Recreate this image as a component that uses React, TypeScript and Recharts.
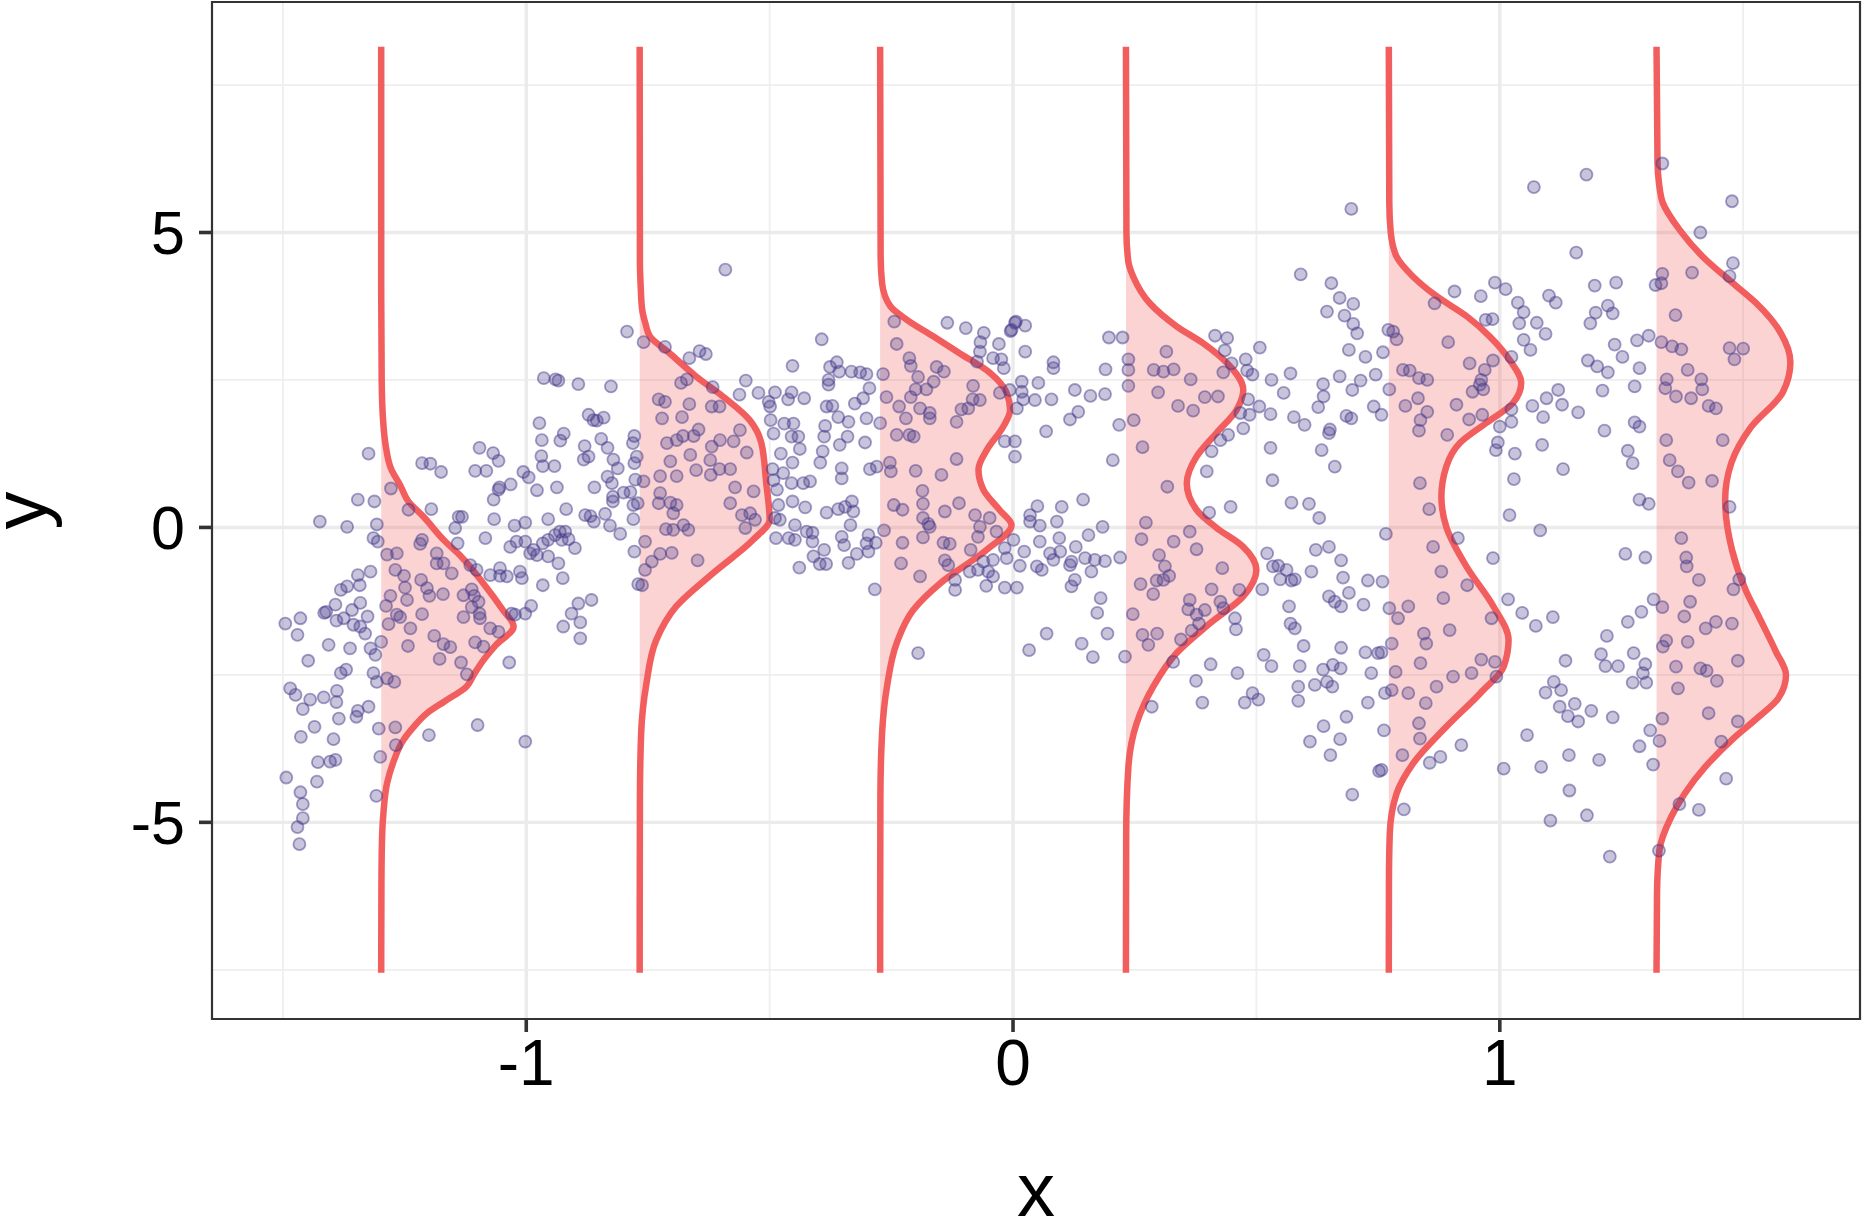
import { ComposedChart, XAxis, YAxis, CartesianGrid, Scatter, Area, ReferenceArea } from 'recharts';

type Pair = [number, number];

const X_DOMAIN: [number, number] = [-1.6456, 1.74];
const Y_DOMAIN: [number, number] = [-8.334, 8.908];
const X_TICKS = [-1, 0, 1];
const Y_TICKS = [-5, 0, 5];
const X_MINOR = [-1.5, -0.5, 0.5, 1.5];
const Y_MINOR = [-7.5, -2.5, 2.5, 7.5];

const POINT_COLOR = '#483D8B';
const CURVE_COLOR = '#F25D5D';
const FONT = '"Liberation Sans", Arial, Helvetica, sans-serif';

// raw observations [x, y], grouped by area of the plane
const leftUpper: Pair[] = [
  [-0.793, 3.32], [-0.964, 2.53], [-0.94, 2.51], [-0.934, 2.49], [-0.893, 2.43], [-0.826, 2.39], [-0.872, 1.91],
  [-0.862, 1.82], [-0.855, 1.81], [-0.841, 1.86], [-0.973, 1.77], [-0.968, 1.48], [-0.93, 1.47], [-0.923, 1.59],
  [-0.846, 1.5], [-0.833, 1.35], [-0.778, 1.55], [-0.781, 1.43], [-0.88, 1.38], [-0.882, 1.15], [-0.872, 1.2],
  [-0.821, 1.15], [-0.812, 1.0], [-0.778, 1.09], [-0.773, 1.2], [-0.969, 1.21], [-0.966, 1.04], [-0.942, 1.04],
  [-1.096, 1.35], [-1.068, 1.26], [-1.057, 1.13], [-1.105, 0.96], [-1.082, 0.96], [-1.006, 0.94], [-0.995, 0.85],
  [-1.214, 1.09], [-1.197, 1.08], [-1.175, 0.94], [-1.324, 1.25], [-0.833, 0.86], [-0.824, 0.75], [-0.776, 0.81],
  [-0.86, 0.68], [-0.937, 0.68], [-0.978, 0.63], [-1.032, 0.73], [-1.055, 0.68], [-1.057, 0.64], [-0.822, 0.52],
  [-0.8, 0.59], [-0.786, 0.6], [-1.278, 0.66],
];

const leftLower: Pair[] = [
  [-1.346, 0.47], [-1.312, 0.44], [-1.242, 0.3], [-1.195, 0.31], [-1.067, 0.47], [-0.918, 0.31], [-0.838, 0.23],
  [-0.822, 0.44], [-0.879, 0.21], [-0.868, 0.19], [-0.78, 0.14], [-0.78, 0.38], [-0.771, 0.41], [-1.139, 0.18],
  [-1.132, 0.18], [-1.066, 0.14], [-1.424, 0.1], [-1.368, 0.01], [-1.307, 0.05], [-1.146, -0.01], [-1.024, 0.03],
  [-1.002, 0.08], [-0.955, 0.14], [-0.931, -0.07], [-0.92, -0.07], [-0.861, 0.1], [-0.828, 0.03], [-0.807, -0.11],
  [-1.084, -0.18], [-1.141, -0.27], [-1.314, -0.18], [-1.305, -0.24], [-1.214, -0.21], [-1.218, -0.28], [-1.033, -0.33],
  [-1.02, -0.24], [-1.002, -0.24], [-0.985, -0.38], [-0.978, -0.47], [-0.992, -0.44], [-0.966, -0.27], [-0.955, -0.21],
  [-0.941, -0.13], [-0.927, -0.21], [-0.913, -0.2], [-0.9, -0.35], [-0.955, -0.49], [-0.934, -0.61], [-0.925, -0.86],
  [-0.966, -0.98], [-0.778, -0.41], [-0.77, -0.96], [-1.286, -0.46], [-1.266, -0.44], [-1.184, -0.44], [-1.184, -0.61],
  [-1.17, -0.61], [-1.153, -0.78], [-1.115, -0.64], [-1.102, -0.72], [-1.074, -0.81], [-1.054, -0.69], [-1.054, -0.82],
  [-1.04, -0.83], [-1.013, -0.75], [-1.009, -0.86], [-1.32, -0.75], [-1.346, -0.81], [-1.342, -0.98], [-1.381, -1.06],
  [-1.368, -1.0], [-1.392, -1.31], [-1.411, -1.43], [-1.415, -1.45], [-1.358, -1.4], [-1.341, -1.28], [-1.326, -1.51],
  [-1.375, -1.54], [-1.355, -1.65], [-1.341, -1.68], [-1.331, -1.8], [-1.39, -1.58], [-1.464, -1.54], [-1.495, -1.63],
  [-1.47, -1.82], [-1.406, -1.99], [-1.362, -2.05], [-1.32, -2.05], [-1.298, -1.94], [-1.31, -2.16], [-1.448, -2.26],
  [-1.381, -2.47], [-1.37, -2.41], [-1.314, -2.47], [-1.307, -2.62], [-1.286, -2.56], [-1.271, -2.62], [-1.485, -2.73],
  [-1.474, -2.84], [-1.444, -2.92], [-1.416, -2.88], [-1.389, -2.77], [-1.39, -2.96], [-1.459, -3.08], [-1.349, -3.21],
  [-1.346, -3.11], [-1.324, -3.04], [-1.385, -3.24], [-1.435, -3.38], [-1.463, -3.55], [-1.396, -3.59], [-1.303, -3.41],
  [-1.269, -3.39], [-1.268, -3.69], [-1.3, -3.89], [-1.428, -3.98], [-1.403, -3.97], [-1.392, -3.94], [-1.493, -4.24],
  [-1.43, -4.31], [-1.464, -4.49], [-1.459, -4.69], [-1.459, -4.93], [-1.47, -5.08], [-1.466, -5.37], [-1.308, -4.55],
  [-1.2, -3.52], [-1.1, -3.35], [-1.002, -3.63], [-1.035, -2.29],
  [-1.269, -0.72], [-1.251, -0.82], [-1.249, -1.02], [-1.279, -1.16], [-1.245, -1.23], [-1.288, -1.33], [-1.266, -1.48],
  [-1.259, -1.52], [-1.283, -1.64], [-1.238, -1.71], [-1.214, -1.47], [-1.216, -0.89], [-1.204, -1.03], [-1.199, -1.16],
  [-1.171, -1.13], [-1.129, -1.15], [-1.112, -1.05], [-1.107, -1.16], [-1.098, -1.26], [-1.112, -1.35], [-1.096, -1.46],
  [-1.095, -1.54], [-1.129, -1.52], [-1.074, -1.71], [-1.057, -1.77], [-1.189, -1.84], [-1.17, -1.98], [-1.156, -2.03],
  [-1.178, -2.23], [-1.134, -2.29], [-1.105, -1.95], [-1.088, -2.02], [-1.243, -2.01], [-1.122, -2.49],
  [-1.03, -1.46], [-1.023, -1.48], [-1.002, -1.46], [-0.99, -1.33], [-0.907, -1.46], [-0.893, -1.29], [-0.866, -1.23],
  [-0.924, -1.68], [-0.889, -1.61], [-0.889, -1.88],
];

const midLeftUpper: Pair[] = [
  [-0.591, 4.37], [-0.759, 3.14], [-0.715, 3.06], [-0.665, 2.87], [-0.644, 2.99], [-0.631, 2.94], [-0.67, 2.51],
  [-0.682, 2.45], [-0.617, 2.38], [-0.549, 2.49], [-0.562, 2.25], [-0.523, 2.28], [-0.489, 2.29], [-0.455, 2.29],
  [-0.462, 2.17], [-0.429, 2.19], [-0.502, 2.13], [-0.499, 2.05], [-0.498, 1.82], [-0.47, 1.76], [-0.451, 1.76],
  [-0.492, 1.59], [-0.455, 1.54], [-0.441, 1.54], [-0.438, 1.33], [-0.477, 1.25], [-0.453, 1.1], [-0.472, 0.92],
  [-0.494, 0.99], [-0.393, 3.19], [-0.453, 2.74], [-0.362, 2.8], [-0.376, 2.72], [-0.357, 2.64], [-0.332, 2.64],
  [-0.314, 2.63], [-0.301, 2.6], [-0.379, 2.5], [-0.379, 2.42], [-0.295, 2.36], [-0.308, 2.19], [-0.325, 2.1],
  [-0.383, 2.05], [-0.371, 2.06], [-0.359, 1.87], [-0.338, 1.79], [-0.301, 1.85], [-0.386, 1.72], [-0.388, 1.54],
  [-0.34, 1.54], [-0.356, 1.4], [-0.391, 1.29], [-0.304, 1.44], [-0.396, 1.1], [-0.352, 1.0], [-0.352, 0.83],
  [-0.294, 0.99], [-0.28, 1.03], [-0.431, 0.75], [-0.417, 0.78], [-0.455, 0.75], [-0.492, 0.8], [-0.485, 0.64],
  [-0.728, 2.17], [-0.715, 2.13], [-0.665, 2.09], [-0.721, 1.85], [-0.68, 1.87], [-0.619, 2.05], [-0.603, 2.05],
  [-0.561, 1.65], [-0.574, 1.46], [-0.547, 1.27], [-0.602, 1.48], [-0.619, 1.37], [-0.646, 1.66], [-0.656, 1.55],
  [-0.678, 1.55], [-0.691, 1.48], [-0.711, 1.43], [-0.663, 1.23], [-0.704, 1.12], [-0.622, 1.14], [-0.651, 0.97],
  [-0.603, 0.99], [-0.581, 0.99], [-0.621, 0.89], [-0.571, 0.68], [-0.533, 0.61], [-0.759, 0.78], [-0.725, 0.87],
  [-0.691, 0.87], [-0.725, 0.58],
  [-0.244, 3.49], [-0.239, 3.11], [-0.213, 2.87], [-0.21, 2.74], [-0.157, 2.72], [-0.142, 2.64], [-0.195, 2.55],
  [-0.163, 2.47], [-0.178, 2.34], [-0.2, 2.34], [-0.267, 2.6], [-0.26, 2.21], [-0.234, 2.05], [-0.21, 2.21],
  [-0.191, 2.02], [-0.171, 1.94], [-0.171, 1.85], [-0.22, 1.85], [-0.116, 1.79], [-0.106, 2.0], [-0.082, 2.4],
  [-0.083, 2.17], [-0.068, 2.16], [-0.092, 2.02], [-0.273, 1.77], [-0.239, 1.57], [-0.213, 1.57], [-0.204, 1.54],
  [-0.116, 1.16], [-0.253, 1.1], [-0.251, 0.95], [-0.2, 0.96], [-0.147, 0.89], [-0.186, 0.62],
  [-0.135, 3.47], [-0.097, 3.38], [-0.06, 3.3], [-0.067, 3.14], [-0.068, 2.98], [-0.074, 2.81], [-0.029, 3.11],
  [-0.041, 2.87], [-0.024, 2.85], [-0.019, 2.7], [-0.005, 3.33], [0.004, 3.47], [-0.027, 2.28], [-0.007, 2.33],
  [-0.017, 1.46], [0.004, 1.46],
];

const midLeftLower: Pair[] = [
  [-0.728, 0.41], [-0.704, 0.42], [-0.691, 0.38], [-0.698, 0.24], [-0.677, 0.04], [-0.698, -0.04], [-0.713, -0.03],
  [-0.667, -0.04], [-0.581, 0.41], [-0.557, 0.21], [-0.54, 0.24], [-0.53, 0.13], [-0.55, -0.01], [-0.756, -0.24],
  [-0.725, -0.45], [-0.701, -0.43], [-0.742, -0.58], [-0.756, -0.72], [-0.648, -0.56], [-0.762, -0.98],
  [-0.482, 0.38], [-0.453, 0.44], [-0.427, 0.34], [-0.383, 0.25], [-0.359, 0.31], [-0.345, 0.35], [-0.328, 0.27],
  [-0.331, 0.44], [-0.489, 0.16], [-0.479, 0.13], [-0.448, 0.04], [-0.424, -0.07], [-0.412, -0.09], [-0.461, -0.18],
  [-0.448, -0.21], [-0.487, -0.18], [-0.412, -0.24], [-0.388, -0.38], [-0.41, -0.49], [-0.397, -0.62], [-0.384, -0.62],
  [-0.439, -0.68], [-0.352, -0.16], [-0.347, -0.3], [-0.334, 0.04], [-0.321, -0.45], [-0.338, -0.6], [-0.297, -0.13],
  [-0.297, -0.41], [-0.301, -0.27], [-0.282, -0.26], [-0.284, -1.05],
  [-0.265, -0.05], [-0.245, 0.38], [-0.227, 0.3], [-0.185, 0.4], [-0.14, 0.27], [-0.111, 0.41], [-0.185, 0.16],
  [-0.174, 0.06], [-0.171, 0.01], [-0.078, 0.21], [-0.048, 0.16], [-0.068, 0.01], [-0.072, -0.16], [-0.034, -0.07],
  [-0.227, -0.26], [-0.185, -0.17], [-0.143, -0.26], [-0.13, -0.28], [-0.087, -0.38], [-0.23, -0.61], [-0.14, -0.56],
  [-0.133, -0.64], [-0.191, -0.83], [-0.195, -2.13],
  [-0.017, -0.35], [-0.013, -0.52], [-0.051, -0.75], [-0.041, -0.83], [-0.055, -0.99], [-0.017, -1.02], [-0.072, -0.72],
  [-0.089, -0.75], [-0.119, -1.06], [-0.119, -0.89], [-0.061, -0.58], [-0.041, -0.55],
];

const midRightUpper: Pair[] = [
  [0.006, 3.49], [0.025, 3.42], [-0.003, 3.35], [0.025, 2.98], [0.083, 2.8], [0.083, 2.7], [0.018, 2.47],
  [0.052, 2.45], [0.018, 2.3], [0.021, 2.17], [0.045, 2.16], [0.008, 2.02], [0.079, 2.17], [0.127, 2.33],
  [0.159, 2.23], [0.189, 2.26], [0.134, 1.96], [0.117, 1.83], [0.068, 1.63], [0.004, 1.2], [0.197, 3.22],
  [0.225, 3.22], [0.19, 2.68], [0.218, 1.74], [0.205, 1.14],
  [0.237, 2.85], [0.237, 2.67], [0.237, 2.4], [0.315, 2.98], [0.289, 2.67], [0.309, 2.64], [0.33, 2.68],
  [0.365, 2.51], [0.298, 2.29], [0.339, 2.06], [0.37, 1.98], [0.394, 2.21], [0.421, 2.22], [0.432, 2.63],
  [0.248, 1.82], [0.266, 1.36], [0.317, 0.69],
  [0.415, 3.25], [0.44, 3.21], [0.435, 3.0], [0.449, 2.78], [0.478, 2.85], [0.481, 2.66], [0.492, 2.59],
  [0.507, 3.05], [0.531, 2.5], [0.57, 2.61], [0.556, 2.28], [0.483, 2.17], [0.506, 2.05], [0.486, 1.91],
  [0.467, 1.94], [0.529, 1.92], [0.473, 1.68], [0.442, 1.57], [0.426, 1.48], [0.408, 1.29], [0.398, 0.95],
  [0.529, 1.35], [0.577, 1.87], [0.599, 1.74], [0.533, 0.8], [0.591, 4.29], [0.654, 4.14], [0.671, 3.89],
  [0.699, 3.79], [0.645, 3.66], [0.681, 3.59], [0.699, 3.45], [0.707, 3.29], [0.69, 3.01], [0.724, 2.89],
  [0.695, 5.4], [0.671, 2.56], [0.714, 2.49], [0.745, 2.59], [0.637, 2.43], [0.638, 2.22], [0.627, 2.04],
  [0.697, 2.33], [0.741, 2.05], [0.685, 1.89], [0.695, 1.85], [0.651, 1.66], [0.649, 1.6], [0.634, 1.31],
  [0.661, 1.03],
];

const midRightLower: Pair[] = [
  [0.05, 0.36], [0.1, 0.35], [0.144, 0.47], [0.035, 0.21], [0.035, 0.1], [0.055, 0.03], [0.09, 0.1],
  [0.184, 0.01], [0.001, -0.21], [0.023, -0.41], [0.055, -0.24], [0.095, -0.18], [0.129, -0.33], [0.155, -0.13],
  [0.076, -0.44], [0.097, -0.41], [0.083, -0.55], [0.12, -0.58], [0.148, -0.52], [0.168, -0.55], [0.189, -0.57],
  [0.22, -0.51], [0.014, -0.65], [0.049, -0.66], [0.059, -0.72], [0.117, -0.64], [0.161, -0.75], [0.127, -0.89],
  [0.12, -1.0], [0.008, -1.02], [0.18, -1.2], [0.173, -1.45], [0.069, -1.8], [0.194, -1.8], [0.141, -1.97],
  [0.033, -2.08], [0.164, -2.2], [0.23, -2.19],
  [0.273, 0.08], [0.264, -0.2], [0.33, -0.24], [0.363, -0.07], [0.377, -0.37], [0.3, -0.47], [0.312, -0.66],
  [0.321, -0.82], [0.309, -0.89], [0.295, -0.9], [0.262, -0.96], [0.288, -1.13], [0.43, -0.69], [0.408, -1.05],
  [0.465, -1.06], [0.363, -1.23], [0.36, -1.39], [0.394, -1.4], [0.377, -1.48], [0.426, -1.26], [0.432, -1.37],
  [0.382, -1.63], [0.367, -1.75], [0.246, -1.47], [0.266, -1.82], [0.296, -1.8], [0.278, -1.99], [0.345, -1.9],
  [0.329, -2.28], [0.285, -3.04],
  [0.403, 0.25], [0.447, 0.35], [0.456, -1.54], [0.458, -1.73], [0.522, -0.44], [0.534, -0.66], [0.545, -0.65],
  [0.562, -0.72], [0.549, -0.88], [0.572, -0.9], [0.579, -0.88], [0.512, -1.05], [0.567, -1.34], [0.57, -1.63],
  [0.579, -1.71], [0.597, -2.01], [0.515, -2.16], [0.531, -2.35], [0.589, -2.35], [0.406, -2.32], [0.461, -2.47],
  [0.376, -2.6], [0.389, -2.97], [0.476, -2.97], [0.492, -2.81], [0.504, -2.92], [0.586, -2.7], [0.586, -2.94],
  [0.62, -2.67], [0.629, 0.16], [0.572, 0.42], [0.608, 0.4], [0.622, -0.38], [0.649, -0.33], [0.674, -0.56],
  [0.613, -0.75], [0.678, -0.85], [0.729, -0.9], [0.649, -1.17], [0.661, -1.26], [0.674, -1.34], [0.69, -1.11],
  [0.72, -1.31], [0.674, -2.04], [0.724, -2.12], [0.75, -2.13], [0.637, -2.41], [0.657, -2.33], [0.673, -2.39],
  [0.645, -2.62], [0.656, -2.7], [0.736, -2.47], [0.729, -2.97], [0.685, -3.21], [0.638, -3.37], [0.61, -3.63],
  [0.672, -3.59], [0.652, -3.86], [0.697, -4.53], [0.752, -4.13],
];

const rightUpper: Pair[] = [
  [0.866, 3.8], [0.781, 3.32], [0.788, 3.19], [0.771, 3.35], [0.894, 3.14], [0.938, 2.78], [0.986, 2.83],
  [0.969, 2.67], [0.962, 2.5], [0.959, 2.42], [0.966, 2.34], [0.944, 2.3], [0.801, 2.67], [0.815, 2.66],
  [0.834, 2.53], [0.851, 2.5], [0.832, 2.19], [0.806, 2.06], [0.851, 1.96], [0.837, 1.82], [0.834, 1.64],
  [0.911, 2.08], [0.937, 1.83], [0.964, 1.91], [0.892, 1.57], [0.836, 0.75],
  [0.907, 4.0], [0.961, 3.92], [0.99, 4.15], [1.012, 4.04], [0.971, 3.52], [0.985, 3.53], [1.037, 3.81],
  [1.049, 3.65], [1.04, 3.46], [1.076, 3.47], [1.094, 3.28], [1.049, 3.18], [1.063, 3.01], [1.024, 2.89],
  [1.101, 3.93], [1.115, 3.81], [1.07, 5.77], [1.178, 5.98], [1.157, 4.66], [1.195, 4.1], [1.239, 4.15],
  [1.222, 3.76], [1.232, 3.63], [1.197, 3.64], [1.186, 3.46], [1.236, 3.1], [1.252, 2.89], [1.282, 3.17],
  [1.306, 3.25], [1.181, 2.83], [1.2, 2.73], [1.222, 2.63], [1.287, 2.7], [1.277, 2.39], [1.211, 2.32],
  [1.12, 2.33], [1.096, 2.19], [1.128, 2.08], [1.161, 1.95], [1.067, 2.06], [1.089, 1.87], [1.024, 2.0],
  [1.024, 1.79], [1.0, 1.71], [1.215, 1.64], [1.277, 1.78], [1.287, 1.71], [0.996, 1.44], [0.992, 1.31],
  [1.031, 1.25], [1.087, 1.4], [1.13, 0.99], [1.029, 0.82], [1.263, 1.3], [1.273, 1.09], [0.76, 2.97],
  [0.773, 2.34], [0.757, 1.91],
  [1.334, 6.17], [1.477, 5.53], [1.412, 5.0], [1.479, 4.48], [1.472, 4.26], [1.334, 4.3], [1.395, 4.32],
  [1.32, 4.11], [1.332, 4.14], [1.361, 3.6], [1.332, 3.14], [1.354, 3.07], [1.373, 3.02], [1.472, 3.04],
  [1.5, 3.03], [1.482, 2.85], [1.386, 2.67], [1.343, 2.51], [1.34, 2.36], [1.362, 2.22], [1.393, 2.19],
  [1.414, 2.51], [1.416, 2.34], [1.429, 2.06], [1.444, 2.02], [1.342, 1.48], [1.458, 1.48], [1.349, 1.14],
  [1.366, 0.95], [1.388, 0.76], [1.436, 0.79],
];

const rightLower: Pair[] = [
  [0.855, 0.31], [0.863, -0.33], [0.88, -0.75], [0.884, -1.2], [0.933, -0.98], [0.812, -1.34], [0.791, -1.54],
  [0.773, -1.37], [0.983, -1.54], [0.897, -1.74], [0.844, -1.8], [0.849, -1.97], [0.778, -1.97], [0.837, -2.3],
  [0.786, -2.45], [0.962, -2.24], [0.99, -2.28], [0.904, -2.53], [0.942, -2.47], [0.87, -2.7], [0.778, -2.76],
  [0.812, -2.81], [0.848, -2.98], [0.834, -3.32], [0.836, -3.58], [0.8, -3.86],
  [0.766, -0.11], [0.759, -0.92], [0.757, -2.12], [0.764, -2.81], [0.762, -3.44], [0.757, -4.11], [0.914, -0.18],
  [0.986, -0.52], [0.993, -2.53], [0.921, -3.69], [0.878, -3.89], [0.856, -3.99], [0.803, -4.78],
  [1.02, 0.21], [1.083, -0.05], [1.258, -0.45], [1.299, -0.51], [1.017, -1.22], [1.046, -1.45], [1.074, -1.67],
  [1.109, -1.52], [1.22, -1.84], [1.263, -1.6], [1.291, -1.43], [1.316, -1.22], [1.208, -2.15], [1.217, -2.35],
  [1.243, -2.35], [1.275, -2.13], [1.299, -2.32], [1.294, -2.47], [1.273, -2.63], [1.301, -2.63], [1.135, -2.26],
  [1.111, -2.62], [1.094, -2.8], [1.126, -2.76], [1.123, -3.04], [1.154, -2.99], [1.14, -3.2], [1.161, -3.29],
  [1.188, -3.11], [1.232, -3.22], [1.056, -3.52], [1.008, -4.09], [1.085, -4.06], [1.142, -3.86], [1.204, -3.94],
  [1.143, -4.46], [1.104, -4.97], [1.179, -4.88], [1.226, -5.58], [1.287, -3.71], [1.309, -3.44], [1.315, -4.02],
  [1.287, 0.47], [1.306, 0.4],
  [1.373, -0.18], [1.383, -0.51], [1.384, -0.66], [1.409, -0.89], [1.391, -1.26], [1.334, -1.35], [1.379, -1.51],
  [1.423, -1.71], [1.444, -1.6], [1.477, -1.63], [1.342, -1.92], [1.335, -2.02], [1.386, -1.94], [1.362, -2.36],
  [1.412, -2.39], [1.425, -2.43], [1.446, -2.6], [1.489, -2.26], [1.366, -2.73], [1.429, -3.15], [1.489, -3.29],
  [1.334, -3.24], [1.328, -3.62], [1.455, -3.63], [1.465, -4.26], [1.369, -4.69], [1.409, -4.79], [1.327, -5.48],
  [1.492, -0.88], [1.48, -1.05], [1.472, 0.35],
];

// density outlines: where each one sits on x, then [y, width] pairs from top to bottom
const DENSITY_BASES = [-1.298, -0.767, -0.273, 0.232, 0.772, 1.322];

const density1: Pair[] = [
  [8.15, 0], [4, 0], [2.5, 0.001], [1.8, 0.004], [1.4, 0.009], [1.0, 0.02], [0.7, 0.04], [0.45, 0.055],
  [0.18, 0.087], [-0.21, 0.128], [-0.5, 0.165], [-0.95, 0.21], [-1.4, 0.25], [-1.68, 0.272], [-2.0, 0.235],
  [-2.25, 0.21], [-2.5, 0.19], [-2.7, 0.175], [-2.95, 0.13], [-3.15, 0.094], [-3.4, 0.065], [-3.6, 0.046],
  [-4.0, 0.024], [-4.34, 0.012], [-4.8, 0.005], [-5.2, 0.002], [-6, 0.0005], [-7.55, 0],
];
const density2: Pair[] = [
  [8.15, 0], [4.5, 0.0005], [4.1, 0.002], [3.7, 0.005], [3.45, 0.012], [3.24, 0.021], [2.95, 0.062],
  [2.56, 0.116], [2.22, 0.171], [1.82, 0.226], [1.43, 0.25], [0.75, 0.26], [0.13, 0.267], [-0.21, 0.233],
  [-0.78, 0.15], [-1.34, 0.075], [-1.91, 0.034], [-2.64, 0.014], [-3.49, 0.003], [-4.6, 0.0005], [-7.55, 0],
];
const density3: Pair[] = [
  [8.15, 0], [4.6, 0.001], [4.14, 0.004], [3.75, 0.021], [3.52, 0.055], [3.24, 0.109], [2.95, 0.164],
  [2.62, 0.226], [2.28, 0.26], [1.99, 0.267], [1.71, 0.253], [1.31, 0.219], [0.98, 0.202], [0.64, 0.212],
  [0.3, 0.245], [0.04, 0.27], [-0.38, 0.219], [-0.95, 0.123], [-1.4, 0.068], [-1.96, 0.034], [-2.7, 0.014],
  [-3.49, 0.004], [-4.6, 0.0005], [-7.55, 0],
];
const density4: Pair[] = [
  [8.15, 0], [5.0, 0.001], [4.5, 0.005], [4.25, 0.015], [3.8, 0.049], [3.41, 0.104], [3.12, 0.159],
  [2.79, 0.207], [2.33, 0.241], [1.99, 0.227], [1.6, 0.186], [1.2, 0.145], [0.75, 0.125], [0.3, 0.145],
  [0.0, 0.185], [-0.33, 0.241], [-0.72, 0.268], [-1.17, 0.241], [-1.63, 0.172], [-2.13, 0.104], [-2.7, 0.056],
  [-3.32, 0.022], [-4.06, 0.005], [-5.2, 0.0005], [-7.55, 0],
];
const density5: Pair[] = [
  [8.15, 0], [5.5, 0.001], [5.0, 0.004], [4.59, 0.016], [4.25, 0.05], [3.92, 0.098], [3.58, 0.16],
  [3.24, 0.207], [2.84, 0.248], [2.45, 0.272], [2.11, 0.255], [1.77, 0.2], [1.43, 0.146], [1.03, 0.118],
  [0.52, 0.108], [0.01, 0.118], [-0.67, 0.16], [-1.34, 0.215], [-1.91, 0.246], [-2.36, 0.236], [-2.81, 0.188],
  [-3.38, 0.118], [-4.0, 0.05], [-4.51, 0.016], [-5.19, 0.002], [-6.0, 0.0003], [-7.55, 0],
];
const density6: Pair[] = [
  [8.15, 0], [6.2, 0.002], [5.84, 0.005], [5.5, 0.013], [5.05, 0.047], [4.59, 0.095], [4.14, 0.157],
  [3.8, 0.205], [3.3, 0.255], [2.8, 0.275], [2.3, 0.26], [1.7, 0.194], [1.1, 0.154], [0.47, 0.141],
  [-0.38, 0.155], [-1.06, 0.183], [-1.51, 0.21], [-2.1, 0.245], [-2.5, 0.266], [-2.9, 0.25], [-3.21, 0.21],
  [-3.6, 0.155], [-4.06, 0.1], [-4.51, 0.058], [-4.91, 0.03], [-5.47, 0.006], [-6.2, 0.001], [-7.55, 0],
];

const POINTS = [
  ...leftUpper, ...leftLower, ...midLeftUpper, ...midLeftLower,
  ...midRightUpper, ...midRightLower, ...rightUpper, ...rightLower,
].map(([x, y]) => ({ x, y }));

const DENSITIES = [density1, density2, density3, density4, density5, density6].map((d, i) => ({
  base: DENSITY_BASES[i],
  rows: d.map(([y, w]) => ({ y, x: DENSITY_BASES[i] + w })),
}));

const Dot = (props: any) => (
  <circle
    cx={props.cx}
    cy={props.cy}
    r={6}
    fill={POINT_COLOR}
    fillOpacity={0.3}
    stroke={POINT_COLOR}
    strokeOpacity={0.5}
    strokeWidth={1.8}
  />
);

const XTitle = (props: any) => {
  const vb = props.viewBox;
  return (
    <text x={vb.x + vb.width / 2} y={vb.y + vb.height} textAnchor="middle" fontSize={76} fontFamily={FONT} fill="#000">
      x
    </text>
  );
};

const YTitle = (props: any) => {
  const vb = props.viewBox;
  const cy = vb.y + vb.height / 2;
  return (
    <text x={46} y={cy} textAnchor="middle" fontSize={76} fontFamily={FONT} fill="#000" transform={`rotate(-90, 46, ${cy})`}>
      y
    </text>
  );
};

export default function App() {
  return (
    <div style={{ position: 'fixed', left: 0, top: 0, background: '#fff', fontFamily: FONT }}>
      <ComposedChart width={1864} height={1216} layout="vertical" margin={{ top: 2, right: 4, bottom: 0, left: 0 }}>
        <CartesianGrid horizontalValues={Y_MINOR} verticalValues={X_MINOR} stroke="#EEEEEE" strokeWidth={1.8} />
        <CartesianGrid horizontalValues={Y_TICKS} verticalValues={X_TICKS} stroke="#EBEBEB" strokeWidth={3.4} />
        <XAxis
          type="number"
          dataKey="x"
          domain={X_DOMAIN}
          allowDataOverflow
          ticks={X_TICKS}
          interval={0}
          height={197}
          axisLine={false}
          tickLine={{ stroke: '#333333', strokeWidth: 3.6 }}
          tickSize={13}
          tickMargin={8}
          tick={{ fontSize: 64, fill: '#000', fontFamily: FONT }}
          label={XTitle}
        />
        <YAxis
          type="number"
          dataKey="y"
          domain={Y_DOMAIN}
          allowDataOverflow
          reversed
          ticks={Y_TICKS}
          interval={0}
          width={212}
          axisLine={false}
          tickLine={{ stroke: '#333333', strokeWidth: 3.6 }}
          tickSize={13}
          tickMargin={14}
          tick={{ fontSize: 61, fill: '#000', fontFamily: FONT }}
          label={YTitle}
        />
        <Scatter data={POINTS} shape={Dot} isAnimationActive={false} />
        {DENSITIES.map((d, i) => (
          <Area
            key={i}
            data={d.rows}
            dataKey="x"
            baseValue={d.base}
            type="monotone"
            stroke={CURVE_COLOR}
            strokeWidth={6.5}
            fill={CURVE_COLOR}
            fillOpacity={0.27}
            dot={false}
            activeDot={false}
            isAnimationActive={false}
          />
        ))}
        <ReferenceArea
          x1={X_DOMAIN[0]}
          x2={X_DOMAIN[1]}
          y1={Y_DOMAIN[0]}
          y2={Y_DOMAIN[1]}
          fill="none"
          stroke="#333333"
          strokeWidth={2.2}
          ifOverflow="visible"
        />
      </ComposedChart>
    </div>
  );
}
